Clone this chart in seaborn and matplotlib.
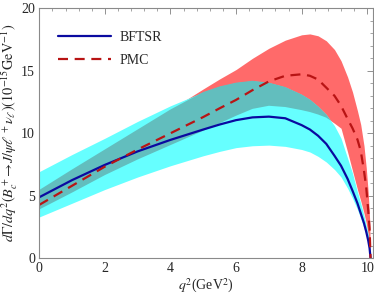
import numpy as np
import pandas as pd
import matplotlib
matplotlib.use("Agg")
import matplotlib.pyplot as plt
import seaborn as sns
from matplotlib.ticker import MultipleLocator

# ---- data ----
q2 = [0, 1, 2, 3, 4, 5, 5.5, 6, 6.5, 7, 7.5, 8, 8.25, 8.5, 8.75, 9, 9.2, 9.4, 9.55, 9.7, 9.8, 9.9, 9.97, 10.03, 10.07, 10.1]
bftsr_c = [4.88, 6.25, 7.47, 8.55, 9.47, 10.3, 10.7, 11.05, 11.27, 11.33, 11.2, 10.65, 10.3, 9.8, 9.15, 8.2, 7.4, 6.35, 5.4, 4.4, 3.6, 2.8, 2.1, 1.4, 0.8, 0]
bftsr_hi = [6.93, 8.3, 9.6, 10.95, 12.2, 13.3, 13.75, 14.05, 14.2, 14.05, 13.7, 13.1, 12.7, 12.15, 11.5, 10.6, 9.6, 8.0, 6.8, 5.3, 4.4, 3.4, 2.6, 1.9, 1.1, 0]
bftsr_lo = [3.3, 4.4, 5.5, 6.5, 7.4, 8.2, 8.55, 8.85, 9.0, 9.05, 8.95, 8.7, 8.5, 8.15, 7.7, 7.1, 6.5, 5.6, 4.8, 3.9, 3.2, 2.4, 1.8, 1.1, 0.6, 0]
pmc_c = [4.27, 5.8, 7.33, 8.7, 10.0, 11.3, 12.0, 12.67, 13.45, 14.15, 14.6, 14.72, 14.6, 14.3, 13.65, 13.0, 12.2, 11.15, 10.4, 9.5, 8.6, 7.0, 5.6, 3.8, 2.4, 0]
pmc_hi = [5.46, 7.1, 8.7, 10.3, 11.9, 13.55, 14.35, 15.1, 16.0, 16.8, 17.45, 17.88, 17.95, 17.8, 17.4, 16.7, 15.8, 14.5, 13.3, 11.8, 10.7, 9.0, 7.2, 5.2, 3.2, 0]
pmc_lo = [3.9, 5.25, 6.65, 7.9, 9.05, 10.2, 10.8, 11.4, 11.95, 12.2, 12.1, 11.85, 11.7, 11.5, 11.25, 10.8, 10.4, 8.5, 7.0, 5.5, 4.6, 3.6, 2.8, 1.8, 1.0, 0]
labels = ["BFTSR", "PMC"]

sns.set_style("white")
plt.rcParams["font.family"] = ["Liberation Serif", "DejaVu Serif"]
plt.rcParams["mathtext.fontset"] = "stix"

fig = plt.figure(figsize=(3.74, 3.02), dpi=100)
ax = fig.add_axes([0.105, 0.145, 0.8915, 0.8275])

x = np.array(q2)
ax.fill_between(x, pmc_lo, pmc_hi, color="#ff6a6a", lw=0)
ax.fill_between(x, bftsr_lo, bftsr_hi, color="#66ffff", lw=0)
lo = np.maximum(pmc_lo, bftsr_lo)
hi = np.minimum(pmc_hi, bftsr_hi)
ax.fill_between(x, lo, hi, where=hi > lo, interpolate=True, color="#62bebe", lw=0)

df = pd.DataFrame({"q2": q2 + q2,
                   "val": bftsr_c + pmc_c,
                   "model": [labels[0]] * len(q2) + [labels[1]] * len(q2)})
sns.lineplot(data=df[df.model == "BFTSR"], x="q2", y="val", color="#0a0aa0", lw=1.6,
             ax=ax, label="BFTSR", sort=False)
sns.lineplot(data=df[df.model == "PMC"], x="q2", y="val", color="#b81414", lw=1.6,
             ax=ax, label="PMC", sort=False, dashes=False, linestyle=(0, (4.5, 3)))

ax.set_xlim(0, 10.165)
ax.set_ylim(0, 20)
ax.xaxis.set_major_locator(MultipleLocator(2))
ax.xaxis.set_minor_locator(MultipleLocator(0.4))
ax.yaxis.set_major_locator(MultipleLocator(5))
ax.yaxis.set_minor_locator(MultipleLocator(1))
ax.tick_params(which="both", direction="in", top=True, right=True, color="#808080",
               labelsize=10, pad=3)
ax.tick_params(which="major", length=4, width=0.6)
ax.tick_params(which="minor", length=2, width=0.5)
for s in ax.spines.values():
    s.set_color("#8a8a8a")
    s.set_linewidth(0.8)

ax.set_xlabel(r"$q^2$(GeV$^2$)", fontsize=10, labelpad=1)
ax.set_ylabel(r"$d\Gamma/dq^2(B_c^+\!\rightarrow\! J/\psi\ell^+\nu_\ell)(10^{-15}\mathrm{GeV}^{-1})$",
              fontsize=10.3, labelpad=1)

leg = ax.legend(loc="upper left", bbox_to_anchor=(0.02, 0.96), frameon=False,
                fontsize=10, handlelength=3.8, labelspacing=0.75, handletextpad=0.6)

fig.savefig("out.png", dpi=100)
